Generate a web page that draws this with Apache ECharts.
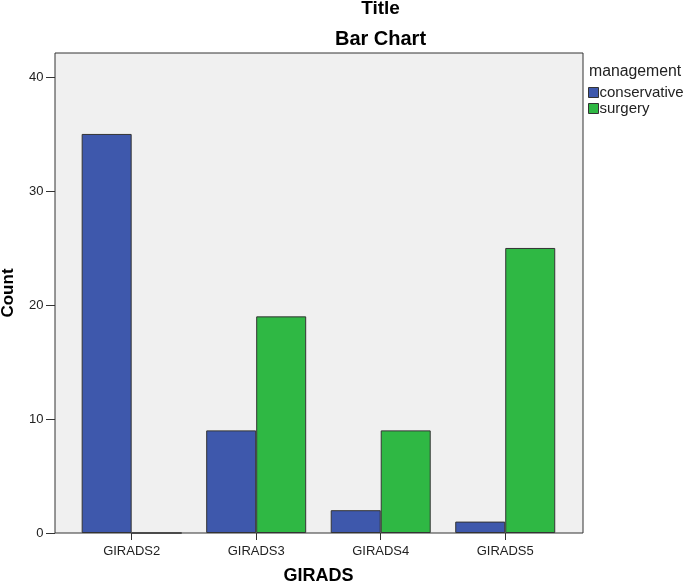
<!DOCTYPE html>
<html><head><meta charset="utf-8">
<script src="https://cdn.jsdelivr.net/npm/echarts@6/dist/echarts.min.js"></script>
<style>html,body{margin:0;padding:0;background:#fff}#c{width:685px;height:585px}</style>
</head><body><div id="c"></div>
<script>
var categories = ['GIRADS2', 'GIRADS3', 'GIRADS4', 'GIRADS5'];
var conservative = [35, 9, 2, 1];
var surgery = [0, 19, 9, 25];
var yTicks = [0, 10, 20, 30, 40];

var F = 'Liberation Sans, Arial, sans-serif';
var chart = echarts.init(document.getElementById('c'));
chart.setOption({
  backgroundColor: '#fff',
  animation: false,
  title: [
    {text: 'Title', left: 380.5, top: -1, padding: 0, textAlign: 'center', textStyle: {fontFamily: F, fontSize: 19, fontWeight: 'bold', color: '#000'}},
    {text: 'Bar Chart', left: 380.5, top: 29, padding: 0, textAlign: 'center', textStyle: {fontFamily: F, fontSize: 20, fontWeight: 'bold', color: '#000'}}
  ],
  graphic: [
    {type: 'rect', z: -10, shape: {x: 55, y: 53, width: 528, height: 480}, style: {fill: '#F0F0F0', stroke: '#333', lineWidth: 1}},
    {type: 'text', left: 589, top: 64, style: {text: 'management', fontFamily: F, fontSize: 15.8, fill: '#222'}}
  ],
  legend: {
    orient: 'vertical', left: 588, top: 85, padding: 0, itemWidth: 10, itemHeight: 10, itemGap: 1,
    icon: 'rect',
    textStyle: {fontFamily: F, fontSize: 15, color: '#222', padding: [0, 0, 0, -4]},
    itemStyle: {borderColor: '#333', borderWidth: 1}
  },
  grid: {left: 69.4, right: 117.5, top: 53, bottom: 52, outerBoundsMode: 'none', containLabel: false},
  xAxis: {
    type: 'category', data: categories,
    name: 'GIRADS', nameLocation: 'middle', nameGap: 34.5,
    nameTextStyle: {fontFamily: F, fontSize: 18, fontWeight: 'bold', color: '#000'},
    axisLine: {show: false},
    axisTick: {show: true, alignWithLabel: true, length: 7, lineStyle: {color: '#333'}},
    axisLabel: {fontFamily: F, fontSize: 13, color: '#222', margin: 12}
  },
  yAxis: {
    type: 'value', min: 0, max: 42.1, interval: 10, offset: 14.4,
    name: 'Count', nameLocation: 'middle', nameGap: 38.5,
    nameTextStyle: {fontFamily: F, fontSize: 17, fontWeight: 'bold', color: '#000'},
    splitLine: {show: false},
    axisLine: {show: false},
    axisTick: {show: true, length: 9, customValues: yTicks, lineStyle: {color: '#333'}},
    axisLabel: {fontFamily: F, fontSize: 13, color: '#222', margin: 11.5, customValues: yTicks}
  },
  series: [
    {name: 'conservative', type: 'bar', data: conservative, barWidth: 50, barGap: '0%',
     itemStyle: {color: '#3E58AC', borderColor: '#333', borderWidth: 1}},
    {name: 'surgery', type: 'bar', data: surgery, barWidth: 50, barGap: '0%',
     itemStyle: {color: '#2FB844', borderColor: '#333', borderWidth: 1}}
  ]
});
</script></body></html>
